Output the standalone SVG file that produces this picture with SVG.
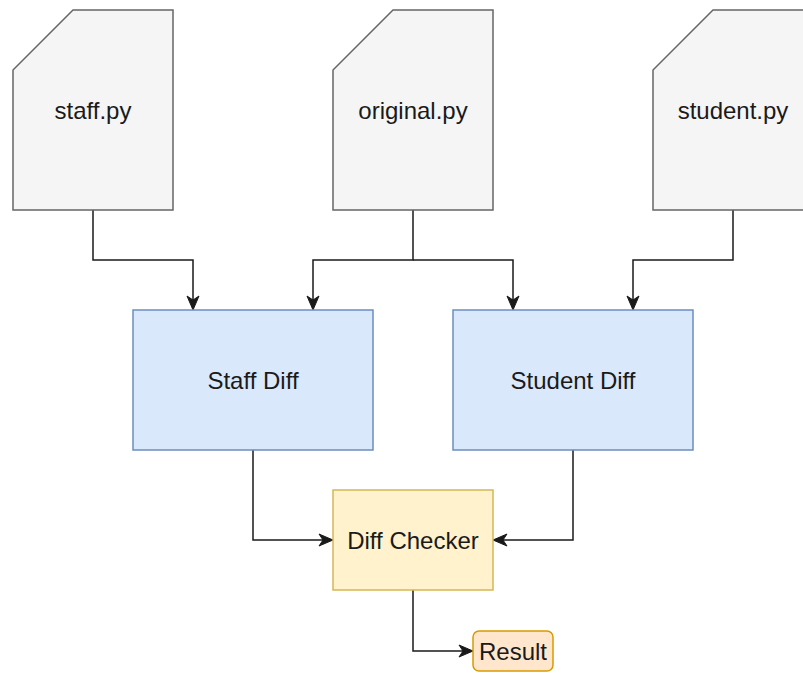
<svg xmlns="http://www.w3.org/2000/svg" width="803" height="673" viewBox="0 0 803 673">
  <defs>
    <style>
      .card { fill: #f5f5f5; stroke: #666666; stroke-width: 1.5; }
      .diff { fill: #dae8fc; stroke: #6c8ebf; stroke-width: 1.5; }
      .check { fill: #fff2cc; stroke: #d6b656; stroke-width: 1.5; }
      .result { fill: #ffe6cc; stroke: #d79b00; stroke-width: 1.5; }
      .label { font-family: "Liberation Sans", Arial, Helvetica, sans-serif; font-size: 24px; fill: #1a1a1a; text-anchor: middle; }
      .edge { fill: none; stroke: #1a1a1a; stroke-width: 1.5; marker-end: url(#arrow); }
    </style>
    <marker id="arrow" markerUnits="userSpaceOnUse" markerWidth="15" markerHeight="13" refX="4" refY="6" orient="auto" overflow="visible">
      <path d="M0,0 L14,6 L0,12 L4,6 Z" fill="#1a1a1a" stroke="#1a1a1a" stroke-width="1" stroke-linejoin="miter"/>
    </marker>
  </defs>

  <rect width="803" height="673" fill="#ffffff"/>

  <!-- connectors -->
  <g id="edges">
    <path class="edge" d="M93,210 V260 H193 V300"/>
    <path class="edge" d="M413,210 V260 H313 V300"/>
    <path class="edge" d="M413,260 H513 V300"/>
    <path class="edge" d="M733,210 V260 H633 V300"/>
    <path class="edge" d="M253,450 V540 H323"/>
    <path class="edge" d="M573,450 V540 H503"/>
    <path class="edge" d="M413,590 V651 H463"/>
  </g>

  <!-- source files -->
  <g id="staff-py">
    <path class="card" d="M73,10 H173 V210 H13 V70 Z"/>
    <text class="label" x="93" y="118.5">staff.py</text>
  </g>
  <g id="original-py">
    <path class="card" d="M393,10 H493 V210 H333 V70 Z"/>
    <text class="label" x="413" y="118.5">original.py</text>
  </g>
  <g id="student-py">
    <path class="card" d="M713,10 H813 V210 H653 V70 Z"/>
    <text class="label" x="733" y="118.5">student.py</text>
  </g>

  <!-- diffs -->
  <g id="staff-diff">
    <rect class="diff" x="133" y="310" width="240" height="140"/>
    <text class="label" x="253" y="388.5">Staff Diff</text>
  </g>
  <g id="student-diff">
    <rect class="diff" x="453" y="310" width="240" height="140"/>
    <text class="label" x="573" y="388.5">Student Diff</text>
  </g>

  <!-- checker and output -->
  <g id="diff-checker">
    <rect class="check" x="333" y="490" width="160" height="100"/>
    <text class="label" x="413" y="548.5">Diff Checker</text>
  </g>
  <g id="result">
    <rect class="result" x="473" y="631" width="80" height="40" rx="6" ry="6"/>
    <text class="label" x="513" y="659.5">Result</text>
  </g>
</svg>
